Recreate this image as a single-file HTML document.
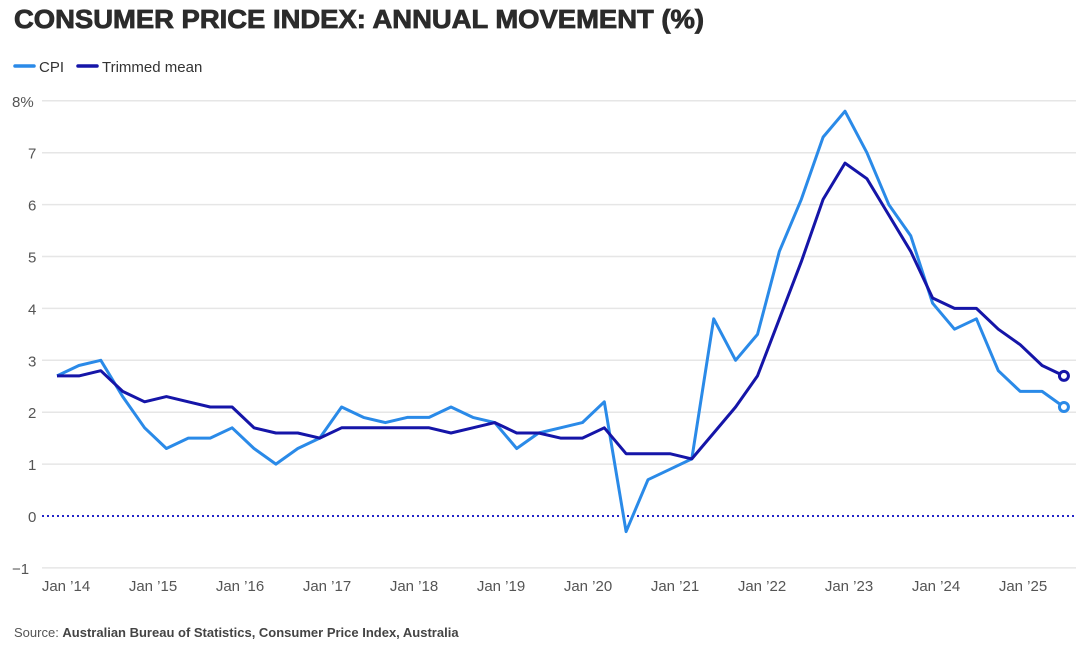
<!DOCTYPE html>
<html><head><meta charset="utf-8"><style>
html,body{margin:0;padding:0;background:#fff;width:1080px;height:661px;overflow:hidden;font-family:"Liberation Sans",Arial,sans-serif}
</style></head><body>
<svg id="s" width="1080" height="661" xmlns="http://www.w3.org/2000/svg" font-family="Liberation Sans, Arial, sans-serif">
<text x="14" y="28" font-size="26" font-weight="900" fill="#2b2b2b" stroke="#2b2b2b" stroke-width="0.8" textLength="690" lengthAdjust="spacingAndGlyphs">CONSUMER PRICE INDEX: ANNUAL MOVEMENT (%)</text>
<line x1="15" y1="66" x2="34" y2="66" stroke="#2a8ae8" stroke-width="3.5" stroke-linecap="round"/>
<text x="39" y="72" font-size="15" fill="#333">CPI</text>
<line x1="78" y1="66" x2="97" y2="66" stroke="#1515a8" stroke-width="3.5" stroke-linecap="round"/>
<text x="102" y="72" font-size="15" fill="#333">Trimmed mean</text>
<g id="grid"></g>
<line x1="42" y1="516" x2="1076" y2="516" stroke="#2424c8" stroke-width="2" stroke-dasharray="2,3"/>
<g id="lines"></g>
<text x="14" y="637" font-size="13" fill="#555">Source: <tspan font-weight="bold" fill="#444">Australian Bureau of Statistics, Consumer Price Index, Australia</tspan></text>
</svg>
<script>
var NS="http://www.w3.org/2000/svg";
function Y(v){return 516-v*51.9;}
function X(i){return 57+i*21.89;}
function el(t,a,p,txt){var e=document.createElementNS(NS,t);for(var k in a)e.setAttribute(k,a[k]);if(txt!=null)e.textContent=txt;p.appendChild(e);return e;}
var g=document.getElementById('grid');
for(var v=-1;v<=8;v++){ if(v!==0) el('line',{x1:42,x2:1076,y1:Y(v),y2:Y(v),stroke:'#e6e6e6','stroke-width':1.5},g);
 el('text',{x:v<0?12:(v==8?12:28),y:Y(v)+6,'font-size':15,fill:'#555'},g,v==8?'8%':(v<0?'\u22121':String(v)));}
var yrs=['14','15','16','17','18','19','20','21','22','23','24','25'];
for(var i=0;i<12;i++) el('text',{x:66+i*87,y:591,'font-size':15,fill:'#555','text-anchor':'middle'},g,'Jan \u2019'+yrs[i]);
var cpi=[2.7,2.9,3.0,2.3,1.7,1.3,1.5,1.5,1.7,1.3,1.0,1.3,1.5,2.1,1.9,1.8,1.9,1.9,2.1,1.9,1.8,1.3,1.6,1.7,1.8,2.2,-0.3,0.7,0.9,1.1,3.8,3.0,3.5,5.1,6.1,7.3,7.8,7.0,6.0,5.4,4.1,3.6,3.8,2.8,2.4,2.4,2.1];
var tm=[2.7,2.7,2.8,2.4,2.2,2.3,2.2,2.1,2.1,1.7,1.6,1.6,1.5,1.7,1.7,1.7,1.7,1.7,1.6,1.7,1.8,1.6,1.6,1.5,1.5,1.7,1.2,1.2,1.2,1.1,1.6,2.1,2.7,3.8,4.9,6.1,6.8,6.5,5.8,5.1,4.2,4.0,4.0,3.6,3.3,2.9,2.7];
var L=document.getElementById('lines');
function draw(d,c){var p=d.map(function(v,i){return X(i).toFixed(1)+','+Y(v).toFixed(1)}).join(' ');
 el('polyline',{points:p,fill:'none',stroke:c,'stroke-width':3,'stroke-linejoin':'round'},L);
 var n=d.length-1; el('circle',{cx:X(n),cy:Y(d[n]),r:4.5,fill:'#fff',stroke:c,'stroke-width':3},L);}
draw(cpi,'#2a8ae8');draw(tm,'#1515a8');
</script>
</body></html>
